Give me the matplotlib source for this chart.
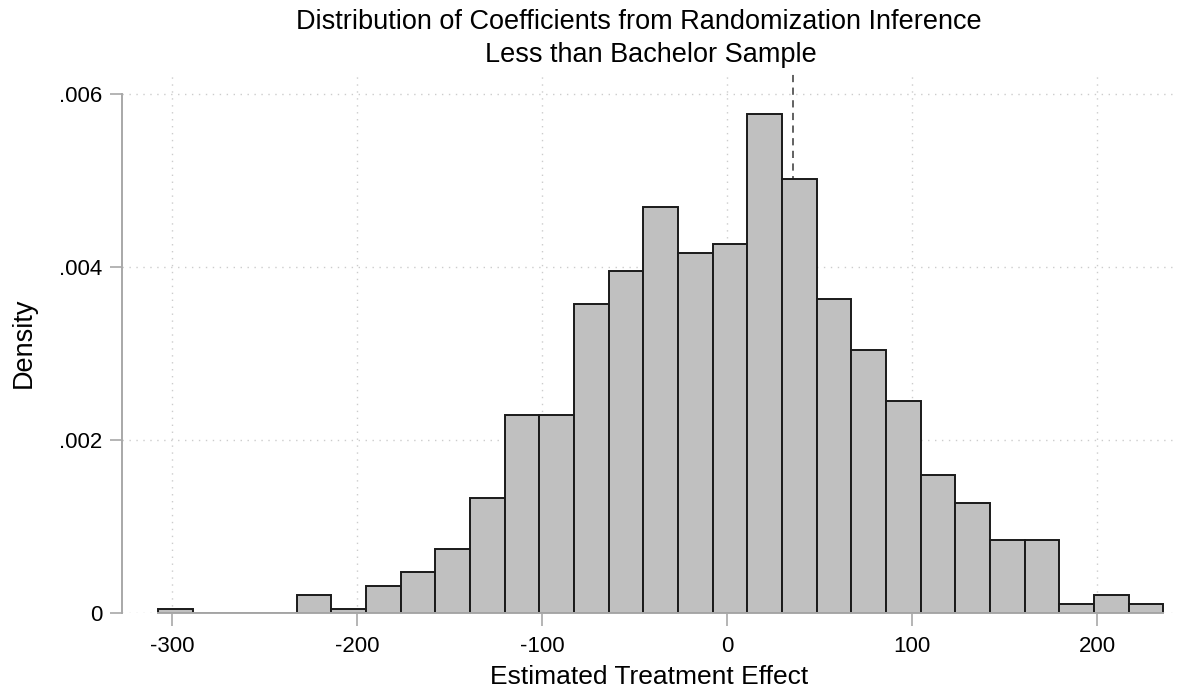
import matplotlib
matplotlib.use("Agg")
import matplotlib.pyplot as plt
import numpy as np

# ---- data ----
bin_start = -307.6
bin_width = 18.74
counts = [1, 0, 0, 0, 4, 1, 6, 9, 14, 25, 43, 43, 67, 74, 88, 78, 80,
          108, 94, 68, 57, 46, 30, 24, 16, 16, 2, 4, 2]
observed_effect = 35.7
x_ticks = [-300, -200, -100, 0, 100, 200]
y_ticks = [0, 0.002, 0.004, 0.006]
y_tick_labels = ["0", ".002", ".004", ".006"]
title_line1 = "Distribution of Coefficients from Randomization Inference"
title_line2 = "Less than Bachelor Sample"
x_label = "Estimated Treatment Effect"
y_label = "Density"

plt.rcParams['font.family'] = ['Liberation Sans', 'DejaVu Sans']

edges = bin_start + bin_width * np.arange(len(counts) + 1)
centers = (edges[:-1] + edges[1:]) / 2

fig = plt.figure(figsize=(11.78, 6.98), dpi=100)
ax = fig.add_axes([0.1036, 0.1211, 0.8947, 0.7757])

ax.hist(centers, bins=edges, weights=counts, density=True,
        facecolor='#c0c0c0', edgecolor='#1a1a1a', linewidth=1.4, zorder=3)
ax.axvline(observed_effect, color='#555555', linestyle=(0, (4, 3)), linewidth=1.3, zorder=2)

ax.set_xlim(-327.0, 242.7)
ax.set_ylim(0, 0.00625)
ax.set_xticks(x_ticks)
ax.set_xticklabels([str(v) for v in x_ticks])
ax.set_yticks(y_ticks)
ax.set_yticklabels(y_tick_labels)

ax.grid(True, color='#cccccc', linestyle=(0, (1, 4)), linewidth=1.0, zorder=0)
ax.set_axisbelow(True)

for s in ['top', 'right']:
    ax.spines[s].set_visible(False)
ax.spines['left'].set_bounds(0, 0.006)
ax.spines['bottom'].set_bounds(edges[0], edges[-1])
for s in ['left', 'bottom']:
    ax.spines[s].set_color('#a8a8a8')
    ax.spines[s].set_linewidth(1.4)
    ax.spines[s].set_zorder(4)

ax.tick_params(axis='both', direction='out', length=9, width=1.2, color='#a8a8a8',
               labelsize=16, labelcolor='black')
ax.tick_params(axis='x', pad=7)
ax.tick_params(axis='y', pad=5)

ax.set_xlabel(x_label, fontsize=19, labelpad=6)
ax.set_ylabel(y_label, fontsize=19.5, labelpad=16)

fig.text(639 / 1178, 1 - 22 / 698, title_line1, ha='center', va='center', fontsize=19.5)
fig.text(651 / 1178, 1 - 55 / 698, title_line2, ha='center', va='center', fontsize=19.5)

fig.savefig("out.png", dpi=100)
